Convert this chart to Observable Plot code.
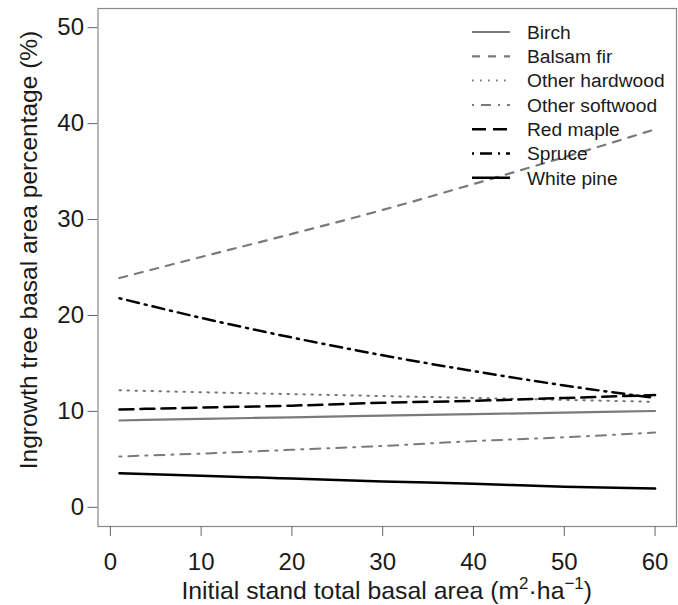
<!DOCTYPE html>
<html><head><meta charset="utf-8">
<script src="https://cdn.jsdelivr.net/npm/d3@7"></script>
<script src="https://cdn.jsdelivr.net/npm/@observablehq/plot@0.6"></script>
<style>body{margin:0;background:#fff}#chart{width:678px;height:605px}</style>
</head><body><div id="chart"></div>
<script>
const basalArea = [1, 10, 20, 30, 40, 50, 60];
const species = ["Birch", "Balsam fir", "Other hardwood", "Other softwood", "Red maple", "Spruce", "White pine"];
const birch = [9.05, 9.22, 9.38, 9.55, 9.71, 9.88, 10.04];
const balsamFir = [23.9, 26.1, 28.5, 31.0, 33.7, 36.5, 39.4];
const otherHardwood = [12.2, 12.0, 11.8, 11.6, 11.4, 11.2, 11.0];
const otherSoftwood = [5.3, 5.6, 6.0, 6.4, 6.9, 7.3, 7.8];
const redMaple = [10.2, 10.4, 10.6, 10.9, 11.1, 11.4, 11.7];
const spruce = [21.8, 19.75, 17.7, 15.85, 14.2, 12.7, 11.4];
const whitePine = [3.55, 3.3, 3.0, 2.7, 2.45, 2.15, 1.95];
const xTicks = [0, 10, 20, 30, 40, 50, 60];
const yTicks = [0, 10, 20, 30, 40, 50];

const seriesValues = [birch, balsamFir, otherHardwood, otherSoftwood, redMaple, spruce, whitePine];
const GRAY = "#7a7a7a", BLACK = "#000";
const styles = [
  {stroke: GRAY, dash: null, w: 2.2},
  {stroke: GRAY, dash: "8,8", w: 2.2},
  {stroke: GRAY, dash: "1.6,6.4", w: 2.0},
  {stroke: GRAY, dash: "2,7,10,7", w: 2.0},
  {stroke: BLACK, dash: "14,7", w: 2.5},
  {stroke: BLACK, dash: "2,6,12,6", w: 2.5},
  {stroke: BLACK, dash: null, w: 2.5}
];

const lineMarks = species.map((name, i) => {
  const data = basalArea.map((x, j) => ({x, y: seriesValues[i][j], species: name}));
  return Plot.line(data, {x: "x", y: "y", stroke: styles[i].stroke, strokeWidth: styles[i].w,
    strokeDasharray: styles[i].dash ?? undefined, curve: "monotone-x"});
});

const W = 678, H = 605;
const plot = Plot.plot({
  width: W, height: H,
  marginLeft: 97.5, marginRight: 2, marginTop: 8, marginBottom: 79,
  style: {fontFamily: "'Liberation Sans', Arial, sans-serif", fontSize: "24px", color: "#1a1a1a", background: "#fff"},
  x: {domain: [-1.36, 62.36]},
  y: {domain: [-2, 52]},
  marks: [
    ...lineMarks,
    Plot.frame({stroke: "#888", strokeWidth: 1.2}),
    Plot.axisX(xTicks, {tickSize: 10, tickPadding: 16, stroke: "#666", label: null, fontSize: 24}),
    Plot.axisY(yTicks, {tickSize: 10, tickPadding: 4, stroke: "#666", label: null, fontSize: 24})
  ]
});
document.getElementById("chart").appendChild(plot);

const svg = d3.select(plot);
// axis titles
const xt = svg.append("text").attr("x", (97.5 + 676) / 2).attr("y", 599).attr("text-anchor", "middle")
  .attr("font-size", 24.8).attr("fill", "#1a1a1a");
xt.append("tspan").text("Initial stand total basal area (m");
xt.append("tspan").attr("font-size", 17).attr("dy", -10).text("2");
xt.append("tspan").attr("dy", 10).text("·ha");
xt.append("tspan").attr("font-size", 17).attr("dy", -10).text("\u22121");
xt.append("tspan").attr("dy", 10).text(")");

svg.append("text").attr("transform", `translate(37,250) rotate(-90)`)
  .attr("text-anchor", "middle").attr("font-size", 24.5).attr("fill", "#1a1a1a")
  .text("Ingrowth tree basal area percentage (%)");

// legend
const lg = svg.append("g").attr("text-anchor", "start");
species.forEach((name, i) => {
  const y = 32 + i * 24.3;
  lg.append("line").attr("x1", 472).attr("x2", 510).attr("y1", y).attr("y2", y)
    .attr("stroke", styles[i].stroke).attr("stroke-width", styles[i].w)
    .attr("stroke-dasharray", styles[i].dash);
  lg.append("text").attr("x", 527).attr("y", y).attr("dy", "0.35em").attr("text-anchor", "start")
    .attr("font-size", 19.2).attr("fill", "#1a1a1a").text(name);
});
</script></body></html>
